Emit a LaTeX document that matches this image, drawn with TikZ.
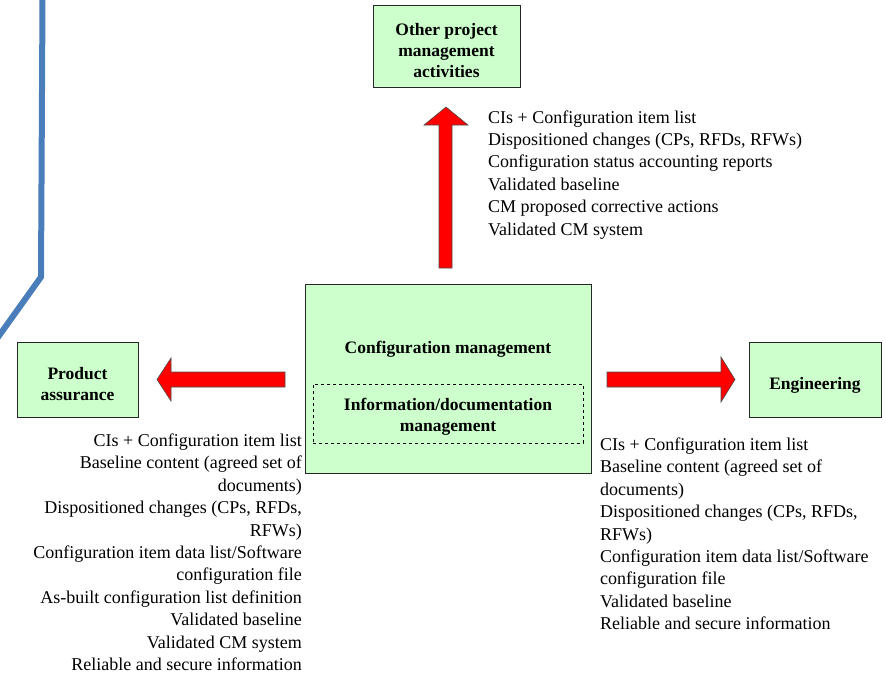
\documentclass[tikz,border=0pt]{standalone}
\usepackage{fontspec}
\setmainfont{Liberation Serif}
\begin{document}
\begin{tikzpicture}[x=1pt,y=-1pt,
  box/.style={draw=black!85,line width=0.8pt,fill=boxgreen,inner sep=0pt},
  boxtext/.style={inner sep=0pt,align=center,font=\bfseries\fontsize{17.5}{21}\selectfont},
  blockarrow/.style={draw=black!70,line width=0.6pt,fill=red},
  itemlist/.style={inner sep=0pt,font=\fontsize{18}{22.4}\selectfont},
  guide/.style={draw=guideblue,line width=6pt}]
\definecolor{boxgreen}{HTML}{CCFFCC}
\definecolor{guideblue}{HTML}{4A7EBB}
\useasboundingbox (0,0) rectangle (886,675);

% blue guide line on the left
\coordinate (g1) at (42.5,-2);
\coordinate (g2) at (41,277);
\coordinate (g3) at (-4,340);
\draw[guide] (g1) -- (g2) -- (g3);

% boxes and their captions
\node[box,minimum width=147pt,minimum height=82pt] (opm) at (446.5,46) {};
\node[boxtext] (opmtext) at (446.5,51) {Other project\\management\\activities};
\node[box,minimum width=286pt,minimum height=189pt] (cm) at (448,378.5) {};
\node[boxtext,anchor=base] (cmtitle) at (448,353) {Configuration management};
\node[draw=black,dashed,line width=0.8pt,minimum width=270pt,minimum height=59pt,
  inner sep=0pt] (idm) at (448,413.5) {};
\node[boxtext] (idmtext) at (448,416.5) {Information/documentation\\management};
\node[box,minimum width=121pt,minimum height=75pt] (pa) at (77.5,379.5) {};
\node[boxtext] (patext) at (77.5,384) {Product\\assurance};
\node[box,minimum width=132pt,minimum height=75pt] (eng) at (815,379.5) {};
\node[boxtext] (engtext) at (815,385) {Engineering};

% block arrows
\draw[blockarrow] (439,268) -- (439,125) -- (424,125) -- (446,107) -- (468,125)
  -- (452,125) -- (452,268) -- cycle;
\draw[blockarrow] (285,372) -- (171,372) -- (171,358) -- (157,379.5) -- (171,401)
  -- (171,387) -- (285,387) -- cycle;
\draw[blockarrow] (607,372) -- (721,372) -- (721,357) -- (735,379.5) -- (721,402)
  -- (721,387) -- (607,387) -- cycle;

% output lists (anchored at the baseline of their last line)
\node[itemlist,anchor=base west,align=left] (toplist) at (488,235)
  {CIs + Configuration item list\\
   Dispositioned changes (CPs, RFDs, RFWs)\\
   Configuration status accounting reports\\
   Validated baseline\\
   CM proposed corrective actions\\
   Validated CM system};
\node[itemlist,anchor=base east,align=right] (palist) at (302,670.5)
  {CIs + Configuration item list\\
   Baseline content (agreed set of\\
   documents)\\
   Dispositioned changes (CPs, RFDs,\\
   RFWs)\\
   Configuration item data list/Software\\
   configuration file\\
   As-built configuration list definition\\
   Validated baseline\\
   Validated CM system\\
   Reliable and secure information};
\node[itemlist,anchor=base west,align=left] (englist) at (600,629.7)
  {CIs + Configuration item list\\
   Baseline content (agreed set of\\
   documents)\\
   Dispositioned changes (CPs, RFDs,\\
   RFWs)\\
   Configuration item data list/Software\\
   configuration file\\
   Validated baseline\\
   Reliable and secure information};
\end{tikzpicture}
\end{document}
